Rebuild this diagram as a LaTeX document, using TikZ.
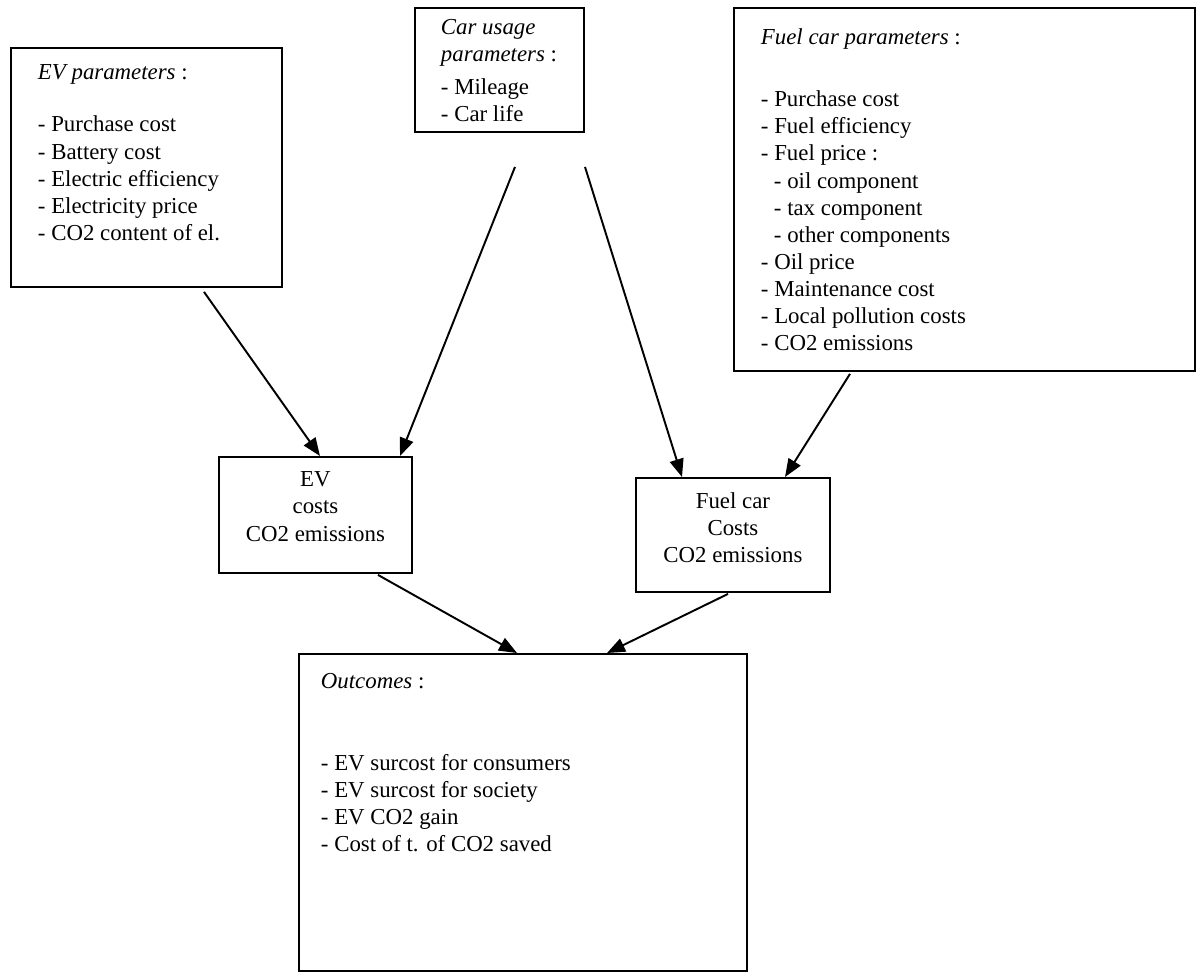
\documentclass[tikz,border=0pt]{standalone}
\usepackage{fontspec}
\setmainfont{Liberation Serif}
\usetikzlibrary{arrows.meta,calc}

% top aligned text block of fixed size inside a box
\newcommand{\boxbody}[3]{\parbox[c][#2][t]{#1}{#3}}

\begin{document}
\begin{tikzpicture}[x=0.02cm, y=-0.02cm,
    every node/.style={font=\fontsize{13}{15.4}\selectfont},
    inbox/.style={draw, line width=1.1pt, anchor=north west, inner xsep=0.54cm, inner ysep=0pt},
    resbox/.style={draw, line width=1.1pt, anchor=north west, inner sep=0pt},
    arr/.style={line width=1.1pt, -{Triangle[length=0.36cm, width=0.28cm]}}]
  \useasboundingbox (0,0) rectangle (1204,975);

  % input boxes
  \node[inbox] (evpar) at (10,47) {\boxbody{4.34cm}{4.78cm}{\vspace*{0.34cm}%
    \textit{EV parameters} :\\[0.5cm]
    - Purchase cost\\
    - Battery cost\\
    - Electric efficiency\\
    - Electricity price\\
    - CO2 content of el.}};
  \node[inbox, inner xsep=0.52cm] (usage) at (414,7) {\boxbody{2.34cm}{2.48cm}{\vspace*{0.22cm}%
    \textit{Car usage}\\
    \textit{parameters} :\\[0.12cm]
    - Mileage\\
    - Car life}};
  \node[inbox] (fuelpar) at (733,7) {\boxbody{8.14cm}{7.26cm}{\vspace*{0.42cm}%
    \textit{Fuel car parameters} :\\[0.7cm]
    - Purchase cost\\
    - Fuel efficiency\\
    - Fuel price :\\
    \hspace*{0.26cm}- oil component\\
    \hspace*{0.26cm}- tax component\\
    \hspace*{0.26cm}- other components\\
    - Oil price\\
    - Maintenance cost\\
    - Local pollution costs\\
    - CO2 emissions}};

  % intermediate boxes
  \node[resbox] (evcost) at (218,456) {\boxbody{3.86cm}{2.32cm}{\centering\vspace*{0.3cm}%
    EV\\ costs\\ CO2 emissions}};
  \node[resbox] (fuelcost) at (635,477) {\boxbody{3.88cm}{2.28cm}{\centering\vspace*{0.3cm}%
    Fuel car\\ Costs\\ CO2 emissions}};

  % result box
  \node[inbox, inner xsep=0.44cm] (outc) at (298,653) {\boxbody{8.08cm}{6.34cm}{\vspace*{0.38cm}%
    \textit{Outcomes} :\\[1.1cm]
    - EV surcost for consumers\\
    - EV surcost for society\\
    - EV CO2 gain\\
    - Cost of t. of CO2 saved}};

  % connectors
  \draw[arr] ($(evpar.south west)+(194,4)$) -- ($(evcost.north west)+(102,0)$);
  \draw[arr] ($(usage.south west)+(101,34)$) -- ($(evcost.north west)+(182,0)$);
  \draw[arr] ($(usage.south west)+(171,34)$) -- ($(fuelcost.north west)+(47,0)$);
  \draw[arr] ($(fuelpar.south west)+(117,2)$) -- ($(fuelcost.north west)+(150,0)$);
  \draw[arr] ($(evcost.south west)+(160,1)$) -- ($(outc.north west)+(219,0)$);
  \draw[arr] ($(fuelcost.south west)+(93,1)$) -- ($(outc.north west)+(309,0)$);
\end{tikzpicture}
\end{document}
